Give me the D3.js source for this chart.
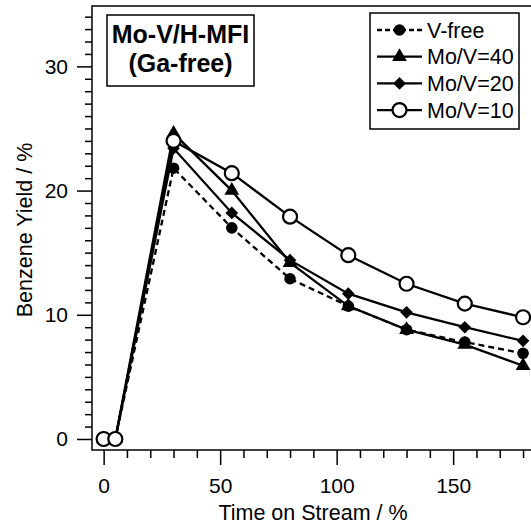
<!DOCTYPE html>
<html>
<head>
<meta charset="utf-8">
<script src="https://cdn.jsdelivr.net/npm/d3@7"></script>
<style>
  html, body { margin: 0; padding: 0; background: #fff; }
  svg { display: block; font-family: "Liberation Sans", Arial, Helvetica, sans-serif; }
</style>
</head>
<body>
<svg id="chart" width="531" height="525"></svg>
<script>
// ---- data ----
const times = [0, 5, 30, 55, 80, 105, 130, 155, 180];
const vFree = [0, 0, 21.8, 17.0, 12.9, 10.7, 8.8, 7.8, 6.9];
const moV40 = [0, 0, 24.6, 20.0, 14.2, 10.7, 8.8, 7.6, 5.9];
const moV20 = [0, 0, 23.4, 18.2, 14.4, 11.7, 10.2, 9.0, 7.9];
const moV10 = [0, 0, 24.0, 21.4, 17.9, 14.8, 12.5, 10.9, 9.8];
const seriesNames = ["V-free", "Mo/V=40", "Mo/V=20", "Mo/V=10"];
const xTickValues = [0, 50, 100, 150];
const yTickValues = [0, 10, 20, 30];
const titleLines = ["Mo-V/H-MFI", "(Ga-free)"];
const xTitle = "Time on Stream / %";
const yTitle = "Benzene Yield / %";

(function () {
const series = [
  { name: seriesNames[0], values: vFree, dash: "6,4", marker: "fcircle" },
  { name: seriesNames[1], values: moV40, dash: null, marker: "triangle" },
  { name: seriesNames[2], values: moV20, dash: null, marker: "diamond" },
  { name: seriesNames[3], values: moV10, dash: null, marker: "ocircle" }
];

const svg = d3.select("#chart");
const pLeft = 92, pTop = 6, pBottom = 450;
const x = d3.scaleLinear().domain([-5, 185]).range([pLeft, pLeft + 190 * 2.33]);
const y = d3.scaleLinear().domain([-0.886, 34.86]).range([pBottom, pTop]);

// frame
const pRight = x(185);
svg.append("rect").attr("x", pLeft).attr("y", pTop).attr("width", pRight - pLeft).attr("height", pBottom - pTop)
  .attr("fill", "none").attr("stroke", "#000").attr("stroke-width", 1.5);

// axes
const fs = 21;
const xAxis = d3.axisBottom(x).tickValues(xTickValues).tickSize(15).tickPadding(13).tickFormat(d3.format("d"));
const gx = svg.append("g").attr("transform", `translate(0,${pBottom})`).call(xAxis);
gx.select(".domain").remove();
gx.selectAll("line").attr("stroke", "#000").attr("stroke-width", 1.5);
gx.selectAll("text").attr("font-size", fs).attr("font-family", "Liberation Sans, Arial, sans-serif").attr("fill", "#000");
const xMinor = d3.axisBottom(x).tickValues(d3.range(0, 181, 10).filter(v => v % 50 !== 0)).tickSize(8).tickFormat("");
const gxm = svg.append("g").attr("transform", `translate(0,${pBottom})`).call(xMinor);
gxm.select(".domain").remove();
gxm.selectAll("line").attr("stroke", "#000").attr("stroke-width", 1.5);

const yAxis = d3.axisLeft(y).tickValues(yTickValues).tickSize(15).tickPadding(9).tickFormat(d3.format("d"));
const gy = svg.append("g").attr("transform", `translate(${pLeft},0)`).call(yAxis);
gy.select(".domain").remove();
gy.selectAll("line").attr("stroke", "#000").attr("stroke-width", 1.5);
gy.selectAll("text").attr("font-size", fs).attr("font-family", "Liberation Sans, Arial, sans-serif").attr("fill", "#000");
const yMinor = d3.axisLeft(y).tickValues(d3.range(0, 35, 1).filter(v => v % 10 !== 0)).tickSize(7).tickFormat("");
const gym = svg.append("g").attr("transform", `translate(${pLeft},0)`).call(yMinor);
gym.select(".domain").remove();
gym.selectAll("line").attr("stroke", "#000").attr("stroke-width", 1.5);

// axis titles
svg.append("text").attr("x", 313).attr("y", 520).attr("text-anchor", "middle")
  .attr("font-size", 21.5).text(xTitle);
svg.append("text").attr("transform", `translate(32,230) rotate(-90)`).attr("text-anchor", "middle")
  .attr("font-size", 21.5).text(yTitle);

// marker drawing
function drawMarker(g, type, cx, cy) {
  if (type === "fcircle") {
    g.append("circle").attr("cx", cx).attr("cy", cy).attr("r", 5.8).attr("fill", "#000");
  } else if (type === "ocircle") {
    g.append("circle").attr("cx", cx).attr("cy", cy).attr("r", 7).attr("fill", "#fff")
      .attr("stroke", "#000").attr("stroke-width", 2.2);
  } else if (type === "triangle") {
    g.append("path").attr("d", d3.symbol(d3.symbolTriangle, 95)())
      .attr("transform", `translate(${cx},${cy})`).attr("fill", "#000");
  } else if (type === "diamond") {
    g.append("path").attr("d", d3.symbol(d3.symbolSquare, 80)())
      .attr("transform", `translate(${cx},${cy}) rotate(45)`).attr("fill", "#000");
  }
}

// lines
const line = d3.line().x((d, i) => x(times[i])).y(d => y(d));
const plot = svg.append("g");
series.forEach(s => {
  plot.append("path").attr("d", line(s.values)).attr("fill", "none").attr("stroke", "#000")
    .attr("stroke-width", 2.3).attr("stroke-dasharray", s.dash);
});
series.forEach(s => {
  const g = plot.append("g");
  s.values.forEach((v, i) => drawMarker(g, s.marker, x(times[i]), y(v)));
});

// title box
svg.append("rect").attr("x", 107).attr("y", 15).attr("width", 147).attr("height", 71)
  .attr("fill", "#fff").attr("stroke", "#000").attr("stroke-width", 1.5);
titleLines.forEach((t, i) => {
  svg.append("text").attr("x", 180.5).attr("y", 43 + i * 28.5).attr("text-anchor", "middle")
    .attr("font-size", 25).attr("font-weight", "bold").text(t);
});

// legend
const lg = svg.append("g");
lg.append("rect").attr("x", 370).attr("y", 13).attr("width", 149).attr("height", 116)
  .attr("fill", "#fff").attr("stroke", "#000").attr("stroke-width", 1.5);
series.forEach((s, i) => {
  const cy = 30 + i * 26.7;
  lg.append("line").attr("x1", 377).attr("x2", 422).attr("y1", cy).attr("y2", cy)
    .attr("stroke", "#000").attr("stroke-width", 2.3).attr("stroke-dasharray", s.dash ? "5,3" : null);
  drawMarker(lg, s.marker, 399.5, cy);
  lg.append("text").attr("x", 427).attr("y", cy + 7.5).attr("font-size", 21.5).text(s.name);
});
})();
</script>
</body>
</html>
